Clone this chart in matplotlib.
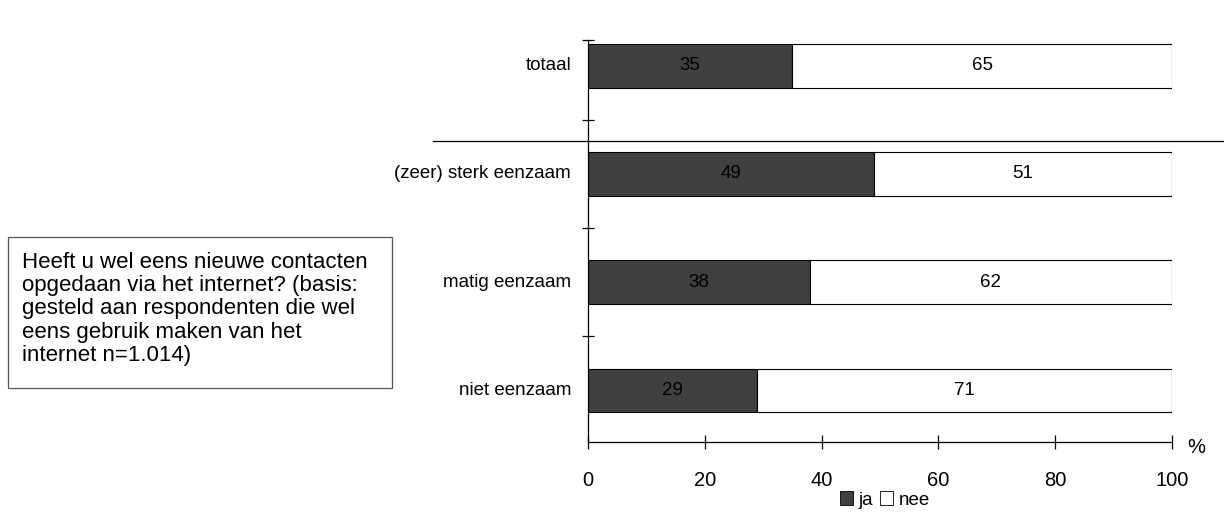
"""Stacked horizontal bars: nieuwe contacten via internet naar eenzaamheid."""
import matplotlib
matplotlib.use("Agg")
import matplotlib.pyplot as plt
from matplotlib.lines import Line2D
from matplotlib.patches import Patch, Rectangle

plt.rcParams["font.family"] = ["Liberation Sans", "DejaVu Sans"]

categories = ["niet eenzaam", "matig eenzaam", "(zeer) sterk eenzaam", "totaal"]
ja = [29, 38, 49, 35]
nee = [71, 62, 51, 65]
x_ticks = [0, 20, 40, 60, 80, 100]
legend_labels = ["ja", "nee"]
question = ("Heeft u wel eens nieuwe contacten\n"
            "opgedaan via het internet? (basis:\n"
            "gesteld aan respondenten die wel\n"
            "eens gebruik maken van het\n"
            "internet n=1.014)")

DARK = "#404040"
FS = 13.5

fig = plt.figure(figsize=(12.24, 5.15), dpi=100)
ax = fig.add_axes([588 / 1224, 1 - 442 / 515, 584 / 1224, 402 / 515])

pos = list(range(len(categories)))
ax.barh(pos, ja, height=0.4, color=DARK, edgecolor="black", linewidth=0.8)
ax.barh(pos, nee, left=ja, height=0.4, color="white", edgecolor="black", linewidth=0.8)
for p, a, b in zip(pos, ja, nee):
    ax.text(a / 2, p, str(a), ha="center", va="center", fontsize=FS, color="black")
    ax.text(a + b / 2, p, str(b), ha="center", va="center", fontsize=FS, color="black")

ax.set_xlim(0, 100)
ax.set_ylim(-0.48, 3.24)
ax.set_xticks(x_ticks)
ax.set_xticklabels([str(t) for t in x_ticks], fontsize=14.5)
ax.tick_params(axis="x", direction="inout", length=10, width=0.9, pad=16)
ax.set_yticks([0.5, 1.5, 2.5, 3.24])
ax.set_yticklabels([])
ax.tick_params(axis="y", direction="inout", length=9, width=0.9)
for p, c in zip(pos, categories):
    ax.text(-2.9, p, c, ha="right", va="center", fontsize=FS)
for side in ("top", "right"):
    ax.spines[side].set_visible(False)
for side in ("left", "bottom"):
    ax.spines[side].set_linewidth(0.9)

ax.text(102.6, -0.53, "%", ha="left", va="center", fontsize=14.5, transform=ax.transData)

# separator between totaal and the subgroups
fig.add_artist(Line2D([433 / 1224, 1.0], [1 - 141 / 515] * 2, color="black", linewidth=0.9))

handles = [Patch(facecolor=DARK, edgecolor="black", linewidth=0.6),
           Patch(facecolor="white", edgecolor="black", linewidth=0.6)]
fig.legend(handles, legend_labels, loc="center", bbox_to_anchor=(885 / 1224, 1 - 500 / 515),
           ncol=2, frameon=False, fontsize=13.5, handlelength=0.7, handleheight=0.7,
           handletextpad=0.3, columnspacing=0.35, borderpad=0)

fig.add_artist(Rectangle((8 / 1224, 1 - 388 / 515), 384 / 1224, 151 / 515,
                         transform=fig.transFigure, facecolor="white",
                         edgecolor="#555555", linewidth=0.9))
fig.text(22 / 1224, 1 - 252 / 515, question, ha="left", va="top", fontsize=16,
         linespacing=1.14)

fig.savefig("out.png", dpi=100)
